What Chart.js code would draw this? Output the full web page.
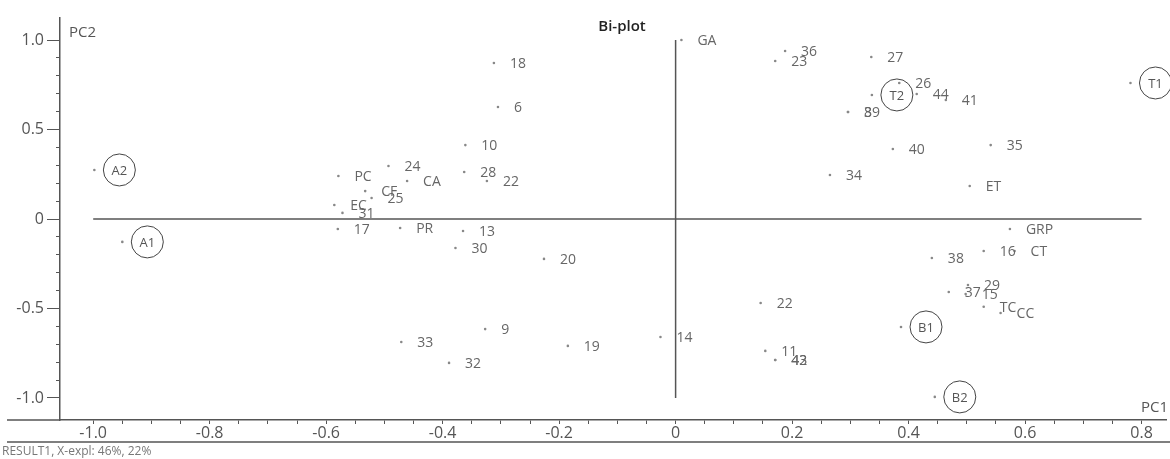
<!DOCTYPE html>
<html>
<head>
<meta charset="utf-8">
<script src="https://cdn.jsdelivr.net/npm/chart.js@4.4.0/dist/chart.umd.min.js"></script>
<style>
  html, body { margin: 0; padding: 0; background: #fff; }
  #wrap { width: 1170px; height: 459px; }
</style>
</head>
<body>
<div id="wrap"><canvas id="biplot"></canvas></div>
<script>
'use strict';

// scores (PC1 across, PC2 up)
let pointLabels = [
  'A2', 'A1', 'PC', '24', 'CA', 'CF', '25', 'EC', '31', '17', 'PR',
  '10', '28', '22', '18', '6', '13', '30', '20', '9', '33', '32', '19', '14',
  'GA', '36', '23', '27', 'T2', '26', '44', '41', '8', '39', '40', '35', '34', 'ET', 'T1',
  'GRP', '16', 'CT', '38', '37', '15', '29', 'TC', 'CC', 'B1', 'B2', '22', '11', '42', '43'
];
let pc1 = [
  -0.998, -0.950, -0.579, -0.493, -0.461, -0.533, -0.522, -0.586, -0.572, -0.580, -0.473,
  -0.361, -0.363, -0.324, -0.312, -0.305, -0.365, -0.378, -0.226, -0.327, -0.471, -0.389, -0.185, -0.026,
  0.010, 0.188, 0.171, 0.336, 0.337, 0.384, 0.414, 0.464, 0.296, 0.296, 0.373, 0.541, 0.265, 0.505, 0.781,
  0.574, 0.529, 0.582, 0.440, 0.469, 0.498, 0.502, 0.529, 0.558, 0.387, 0.445, 0.146, 0.154, 0.171, 0.171
];
let pc2 = [
  0.274, -0.128, 0.240, 0.296, 0.212, 0.156, 0.117, 0.078, 0.034, -0.056, -0.050,
  0.413, 0.263, 0.212, 0.872, 0.626, -0.067, -0.162, -0.223, -0.615, -0.687, -0.804, -0.709, -0.659,
  1.000, 0.939, 0.883, 0.905, 0.693, 0.760, 0.698, 0.665, 0.598, 0.598, 0.391, 0.413, 0.246, 0.184, 0.760,
  -0.056, -0.179, -0.179, -0.218, -0.408, -0.419, -0.369, -0.490, -0.525, -0.603, -0.994, -0.469, -0.737, -0.788, -0.788
];
let circledLabels = ['A1', 'A2', 'B1', 'B2', 'T1', 'T2'];

let xTickValues = [-1.0, -0.8, -0.6, -0.4, -0.2, 0, 0.2, 0.4, 0.6, 0.8];
let xTickLabels = ['-1.0', '-0.8', '-0.6', '-0.4', '-0.2', '0', '0.2', '0.4', '0.6', '0.8'];
let yTickValues = [-1.0, -0.5, 0, 0.5, 1.0];
let yTickLabels = ['-1.0', '-0.5', '0', '0.5', '1.0'];

// the two centre lines of the bi-plot
let centreLineX = [-1.0, 0.8];
let centreLineY = [-1.0, 1.0];

let axisColor = '#555';
let textColor = '#666';

//Helper Functions
function labelFor(value, values, labels) {
  for (let i = 0; i < values.length; i++) {
    if (Math.abs(value - values[i]) < 1e-6) {
      return labels[i];
    }
  }
  return '';
}

function keepTicks(lo, hi) {
  return function (scale) {
    scale.ticks = scale.ticks.filter(t => t.value >= lo - 1e-6 && t.value <= hi + 1e-6);
  };
}

let points = [];
for (let i = 0; i < pc1.length; i++) {
  points.push({ x: pc1[i], y: pc2[i] });
}

//plugins
let pointLabelPlugin = {
  id: 'pointLabels',
  afterDatasetsDraw(chart) {
    let ctx = chart.ctx;
    let meta = chart.getDatasetMeta(0);
    ctx.save();
    ctx.textBaseline = 'middle';
    for (let i = 0; i < meta.data.length; i++) {
      let el = meta.data[i];
      let name = pointLabels[i];
      if (circledLabels.includes(name)) {
        ctx.strokeStyle = '#444';
        ctx.lineWidth = 1;
        ctx.beginPath();
        ctx.arc(el.x + 25, el.y, 16, 0, Math.PI * 2);
        ctx.stroke();
        ctx.font = '13px "Open Sans"';
        ctx.fillStyle = '#555';
        ctx.textAlign = 'center';
        ctx.fillText(name, el.x + 25, el.y + 1);
      } else {
        ctx.font = '14px "Open Sans"';
        ctx.fillStyle = textColor;
        ctx.textAlign = 'left';
        ctx.fillText(name, el.x + 16, el.y + 1);
      }
    }
    ctx.restore();
  }
};

let decorPlugin = {
  id: 'decor',
  afterDraw(chart) {
    let ctx = chart.ctx;
    let area = chart.chartArea;
    let w = chart.width;
    ctx.save();
    ctx.strokeStyle = axisColor;
    ctx.lineWidth = 1.5;
    ctx.beginPath();
    ctx.moveTo(7, area.bottom);
    ctx.lineTo(area.left, area.bottom);
    ctx.moveTo(7, 442);
    ctx.lineTo(w, 442);
    ctx.stroke();

    ctx.fillStyle = '#222';
    ctx.font = '600 15px "Open Sans"';
    ctx.textAlign = 'center';
    ctx.textBaseline = 'middle';
    ctx.fillText('Bi-plot', 622, 27);

    ctx.fillStyle = '#555';
    ctx.font = '15px "Open Sans"';
    ctx.textAlign = 'left';
    ctx.fillText('PC2', area.left + 9, 33);
    ctx.textAlign = 'right';
    ctx.fillText('PC1', w - 2, 408);

    ctx.fillStyle = '#777';
    ctx.font = '12px "Open Sans"';
    ctx.textAlign = 'left';
    ctx.fillText('RESULT1, X-expl: 46%, 22%', 2, 452);
    ctx.restore();
  }
};

let config = {
  type: 'scatter',
  data: {
    datasets: [{
      label: 'scores',
      data: points,
      pointRadius: 1.3,
      pointBackgroundColor: '#888',
      pointBorderWidth: 0
    }, {
      label: 'centreX',
      data: [{ x: centreLineX[0], y: 0 }, { x: centreLineX[1], y: 0 }],
      showLine: true,
      pointRadius: 0,
      borderColor: axisColor,
      borderWidth: 1.5
    }, {
      label: 'centreY',
      data: [{ x: 0, y: centreLineY[0] }, { x: 0, y: centreLineY[1] }],
      showLine: true,
      pointRadius: 0,
      borderColor: axisColor,
      borderWidth: 1.5
    }]
  },
  options: {
    responsive: true,
    maintainAspectRatio: false,
    animation: false,
    devicePixelRatio: 1,
    layout: { padding: { top: 18, left: 0, right: 0, bottom: 0 } },
    plugins: {
      legend: { display: false },
      tooltip: { enabled: false },
      title: { display: false }
    },
    scales: {
      x: {
        type: 'linear',
        min: -1.057,
        max: 0.842,
        afterFit(scale) { scale.height = 39; },
        afterBuildTicks: keepTicks(-1.0, 0.8),
        ticks: {
          stepSize: 0.05,
          includeBounds: false,
          autoSkip: false,
          maxRotation: 0,
          padding: 0,
          color: '#555',
          font: { family: 'Open Sans', size: 16 },
          callback: (value) => labelFor(value, xTickValues, xTickLabels)
        },
        grid: { drawOnChartArea: false, drawTicks: true, tickLength: 4, tickColor: axisColor },
        border: { color: axisColor, width: 1.5 }
      },
      y: {
        type: 'linear',
        min: -1.123,
        max: 1.123,
        afterFit(scale) { scale.width = 60; },
        afterBuildTicks: keepTicks(-1.0, 1.0),
        ticks: {
          stepSize: 0.1,
          includeBounds: false,
          autoSkip: false,
          padding: 3,
          color: '#555',
          font: { family: 'Open Sans', size: 16 },
          callback: (value) => labelFor(value, yTickValues, yTickLabels)
        },
        grid: {
          drawOnChartArea: false,
          drawTicks: true,
          tickLength: 13,
          tickColor: axisColor,
          tickBorderDash: (c) => labelFor(c.tick.value, yTickValues, yTickLabels) ? [] : [0, 9, 5, 30]
        },
        border: { color: axisColor, width: 1.5 }
      }
    }
  },
  plugins: [pointLabelPlugin, decorPlugin]
};

const myChart = new Chart(document.getElementById('biplot'), config);
</script>
</body>
</html>
